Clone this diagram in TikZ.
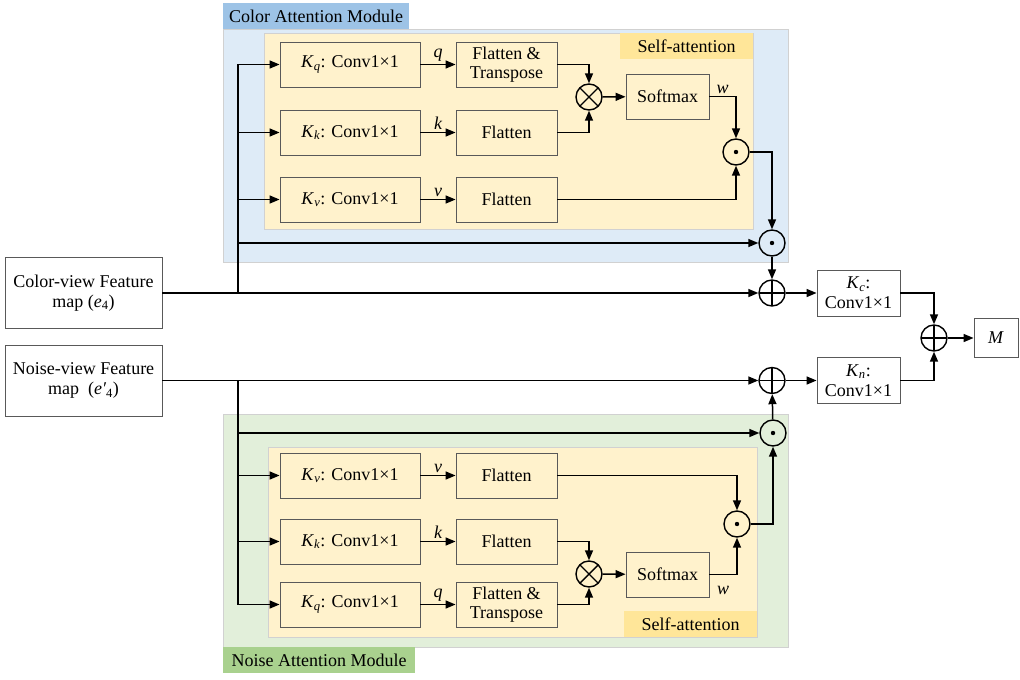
\documentclass[tikz,border=0pt]{standalone}
\usepackage{fontspec}
\setmainfont{Liberation Serif}
\usetikzlibrary{arrows.meta}
\definecolor{camBlue}{HTML}{DEEBF7}
\definecolor{camTab}{HTML}{9DC3E6}
\definecolor{namGreen}{HTML}{E2EFDA}
\definecolor{namTab}{HTML}{A9D18E}
\definecolor{saYellow}{HTML}{FFF2CC}
\definecolor{saTab}{HTML}{FFE699}
\def\Kv#1{\textit{K}\textsubscript{\textit{#1}}}
\tikzset{
  modfrm/.style={draw=black!18, line width=0.8pt},
  tabbox/.style={minimum height=26, inner sep=0pt},
  blk/.style={draw=black!65, line width=0.9pt, fill=saYellow, minimum height=45, inner sep=0pt, align=center},
  conv/.style={blk, minimum width=140},
  flat/.style={blk, minimum width=101},
  outbox/.style={draw=black!65, line width=0.9pt, fill=white, inner sep=0pt, align=center},
  op/.style={circle, draw, line width=1.4pt, minimum size=26, inner sep=0pt},
  oplus/.style={op, path picture={\draw[line width=1.4pt] (path picture bounding box.north) -- (path picture bounding box.south) (path picture bounding box.west) -- (path picture bounding box.east);}},
  otimes/.style={op, path picture={\draw[line width=1.4pt] (path picture bounding box.north west) -- (path picture bounding box.south east) (path picture bounding box.south west) -- (path picture bounding box.north east);}},
  odot/.style={op, path picture={\fill (path picture bounding box.center) circle (2.2);}},
  arr/.style={line width=1.5pt, -{Triangle[length=10pt,width=8pt]}},
  lbl/.style={font=\fontsize{18}{20}\selectfont\itshape, inner sep=2pt}
}

\begin{document}
\begin{tikzpicture}[x=1pt, y=-1pt, font=\fontsize{18}{20}\selectfont]
		%%%%% START %%%%%
		\useasboundingbox (0,0) rectangle (1020,680);
		
		% color attention module
		\draw[modfrm, fill=camBlue] (223,29) rectangle (788,262);
		\node[tabbox, fill=camTab, minimum width=186] (camLbl) at (316,16) {Color Attention Module};
		\draw[modfrm, fill=saYellow] (264,33) rectangle (753,229);
		\node[tabbox, fill=saTab, minimum width=133] (saC) at (686.5,46) {Self-attention};
		
		\node[conv] (kqC) at (350,64.5) {\Kv{q}: Conv1×1};
		\node[flat] (ftC) at (506.5,64.5) {Flatten \&\\[-1pt]Transpose};
		\node[conv] (kkC) at (350,132.5) {\Kv{k}: Conv1×1};
		\node[flat] (flkC) at (506.5,132.5) {Flatten};
		\node[conv] (kvC) at (350,199.5) {\Kv{v}: Conv1×1};
		\node[flat] (flvC) at (506.5,199.5) {Flatten};
		\node[otimes] (mulC) at (589,97) {};
		\node[blk, minimum width=83] (smC) at (667.5,96.5) {Softmax};
		\node[odot] (dotC) at (736,152) {};
		\node[odot] (dotCC) at (772,243) {};
		
		% noise attention module
		\draw[modfrm, fill=namGreen] (223,414) rectangle (788,647);
		\node[tabbox, fill=namTab, minimum width=192] (namLbl) at (319,660) {Noise Attention Module};
		\draw[modfrm, fill=saYellow] (268,447) rectangle (757,637);
		\node[tabbox, fill=saTab, minimum width=133] (saN) at (690.5,624) {Self-attention};
		
		\node[conv] (kvN) at (350,475.5) {\Kv{v}: Conv1×1};
		\node[flat] (flvN) at (506.5,475.5) {Flatten};
		\node[conv] (kkN) at (350,541.5) {\Kv{k}: Conv1×1};
		\node[flat] (flkN) at (506.5,541.5) {Flatten};
		\node[conv] (kqN) at (350,604.5) {\Kv{q}: Conv1×1};
		\node[flat] (ftN) at (506.5,604.5) {Flatten \&\\[-1pt]Transpose};
		\node[otimes] (mulN) at (589,574) {};
		\node[blk, minimum width=83] (smN) at (667.5,574.5) {Softmax};
		\node[odot] (dotN) at (737,524) {};
		\node[odot] (dotNN) at (773,433) {};
		
		% inputs, fusion, output
		\node[outbox, minimum width=157, minimum height=71] (colorIn) at (83.5,293) {Color-view Feature\\map (\textit{e}\textsubscript{4})};
		\node[outbox, minimum width=157, minimum height=71] (noiseIn) at (83.5,380.5) {Noise-view Feature\\map\ \ (\textit{e′}\textsubscript{4})};
		\node[oplus] (addC) at (772,293) {};
		\node[oplus] (addN) at (772,380.5) {};
		\node[outbox, minimum width=83, minimum height=46] (kcBox) at (858.5,293) {\Kv{c}:\\Conv1×1};
		\node[outbox, minimum width=83, minimum height=46] (knBox) at (858.5,380.5) {\Kv{n}:\\Conv1×1};
		\node[oplus] (addM) at (934,338) {};
		\node[outbox, minimum width=44, minimum height=39] (mOut) at (996,338) {\textit{M}};
		
		\coordinate (busC) at (238,293);
		\coordinate (busN) at (238,380.5);
		
		% color branch
		\draw[arr] (colorIn) -- (addC);
		\draw[arr] (busC) |- (kqC);
		\draw[arr] (busC) |- (kkC);
		\draw[arr] (busC) |- (kvC);
		\draw[arr] (busC) |- (dotCC);
		\draw[arr] (kqC) -- node[lbl, above] {q} (ftC);
		\draw[arr] (kkC) -- node[lbl, above] {k} (flkC);
		\draw[arr] (kvC) -- node[lbl, above] {v} (flvC);
		\draw[arr] (ftC) -| (mulC);
		\draw[arr] (flkC) -| (mulC);
		\draw[arr] (mulC) -- (smC);
		\draw[arr] (smC) -| node[lbl, pos=0.25, above] {w} (dotC);
		\draw[arr] (flvC) -| (dotC);
		\draw[arr] (dotC) -| (dotCC);
		\draw[arr] (dotCC) -- (addC);
		
		% noise branch
		\draw[arr] (noiseIn) -- (addN);
		\draw[arr] (busN) |- (dotNN);
		\draw[arr] (busN) |- (kvN);
		\draw[arr] (busN) |- (kkN);
		\draw[arr] (busN) |- (kqN);
		\draw[arr] (kvN) -- node[lbl, above] {v} (flvN);
		\draw[arr] (kkN) -- node[lbl, above] {k} (flkN);
		\draw[arr] (kqN) -- node[lbl, above] {q} (ftN);
		\draw[arr] (flkN) -| (mulN);
		\draw[arr] (ftN) -| (mulN);
		\draw[arr] (mulN) -- (smN);
		\draw[arr] (smN) -| node[lbl, pos=0.25, below=9pt] {w} (dotN);
		\draw[arr] (flvN) -| (dotN);
		\draw[arr] (dotN) -| (dotNN);
		\draw[arr] (dotNN) -- (addN);
		
		% fusion
		\draw[arr] (addC) -- (kcBox);
		\draw[arr] (addN) -- (knBox);
		\draw[arr] (kcBox) -| (addM);
		\draw[arr] (knBox) -| (addM);
		\draw[arr] (addM) -- (mOut);
		
		%%%%% END %%%%%
\end{tikzpicture}
\end{document}
